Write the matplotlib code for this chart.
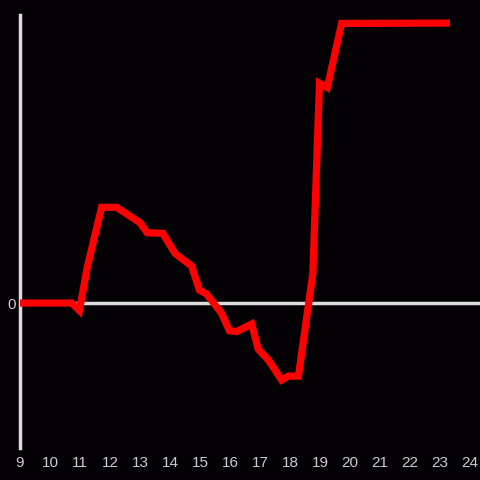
import matplotlib
matplotlib.use("Agg")
import matplotlib.pyplot as plt

hours = [9.0, 10.72, 10.98, 11.24, 11.72, 12.22, 13.0, 13.24, 13.76, 14.17, 14.72,
         14.98, 15.22, 15.72, 15.98, 16.22, 16.72, 16.94, 17.28, 17.72, 17.94, 18.28,
         18.76, 18.98, 19.24, 19.72, 23.33]
values = [0, 0, -2.7, 12.7, 34.2, 34.2, 28.7, 25.1, 24.9, 17.7, 13.2,
          4.6, 3.2, -3.7, -9.9, -10.2, -7.5, -16.5, -20.4, -27.5, -26.1, -26.1,
          10.6, 78.5, 77.0, 99.9, 100.0]
xticks = list(range(9, 25))

bg = "#030104"
fig = plt.figure(figsize=(4.8, 4.8), dpi=100, facecolor=bg)
ax = fig.add_axes([20/480, 1 - 448/480, 460/480, (448 - 15)/480])
ax.set_facecolor(bg)
ax.plot(hours, values, color="#ff0000", lw=5.2, solid_joinstyle="miter",
        solid_capstyle="butt", zorder=3)
ax.axhline(0, color="#dddddd", lw=2.5, zorder=2)
ax.set_xlim(9, 24.33)
ax.set_ylim(-51.8, 102.9)
for s in ["top", "right", "bottom"]:
    ax.spines[s].set_visible(False)
ax.spines["left"].set_color("#dddddd")
ax.spines["left"].set_linewidth(2.5)
ax.set_xticks(xticks)
ax.set_xticklabels([str(t) for t in xticks])
ax.set_yticks([0])
ax.set_yticklabels(["0"])
ax.tick_params(length=0, colors="#cccccc", labelsize=11)
for lab in ax.get_xticklabels() + ax.get_yticklabels():
    lab.set_fontfamily("Liberation Sans")
ax.tick_params(axis="x", pad=6)
ax.tick_params(axis="y", pad=3)
fig.savefig("out.png", dpi=100, facecolor=bg)
